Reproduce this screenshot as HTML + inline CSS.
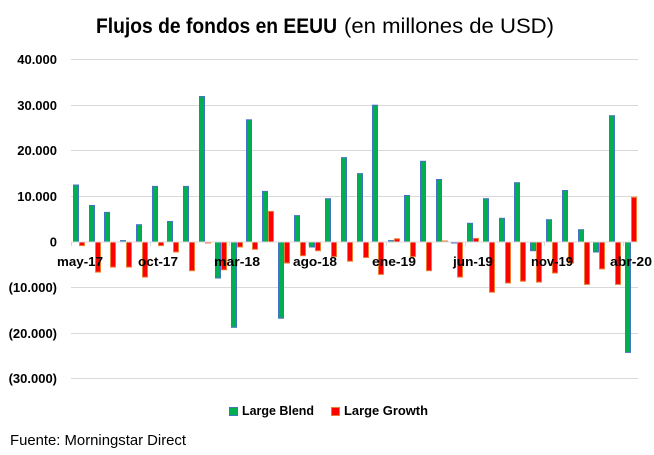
<!DOCTYPE html>
<html>
<head>
<meta charset="utf-8">
<style>
html,body{margin:0;padding:0;background:#fff;}
svg{display:block;}
text{font-family:"Liberation Sans",Arial,sans-serif;fill:#000;}
</style>
</head>
<body>
<svg width="654" height="455" viewBox="0 0 654 455" xmlns="http://www.w3.org/2000/svg">
<rect x="0" y="0" width="654" height="455" fill="#fff"/>
<!-- Title -->
<text x="96" y="33" font-size="21" font-weight="bold" textLength="241" lengthAdjust="spacingAndGlyphs">Flujos de fondos en EEUU</text>
<text x="344" y="33" font-size="21" textLength="210" lengthAdjust="spacingAndGlyphs">(en millones de USD)</text>

<!-- Gridlines -->
<g stroke="#d9d9d9" stroke-width="1">
<line x1="71" y1="59.5" x2="638" y2="59.5"/>
<line x1="71" y1="105.5" x2="638" y2="105.5"/>
<line x1="71" y1="150.5" x2="638" y2="150.5"/>
<line x1="71" y1="196.5" x2="638" y2="196.5"/>
<line x1="71" y1="287.5" x2="638" y2="287.5"/>
<line x1="71" y1="333.5" x2="638" y2="333.5"/>
<line x1="71" y1="378.5" x2="638" y2="378.5"/>
</g>

<!-- Y labels -->
<g font-size="13" font-weight="bold" text-anchor="end">
<text x="57" y="64">40.000</text>
<text x="57" y="110">30.000</text>
<text x="57" y="155">20.000</text>
<text x="57" y="201">10.000</text>
<text x="57" y="246.5">0</text>
<text x="57" y="292">(10.000)</text>
<text x="57" y="338">(20.000)</text>
<text x="57" y="383">(30.000)</text>
</g>

<!-- Green bars (Large Blend) -->
<g fill="#00b050" stroke="#4472c4" stroke-width="1">
<rect x="73.5" y="185" width="5" height="57"/>
<rect x="89.5" y="205.5" width="5" height="36.5"/>
<rect x="104.5" y="212.4" width="5" height="29.6"/>
<rect x="120.5" y="240.6" width="5" height="1.4"/>
<rect x="136.5" y="224.7" width="5" height="17.3"/>
<rect x="152.5" y="186.4" width="5" height="55.6"/>
<rect x="167.5" y="221.5" width="5" height="20.5"/>
<rect x="183.5" y="186.4" width="5" height="55.6"/>
<rect x="199.5" y="96.5" width="5" height="145.5"/>
<rect x="215.5" y="242" width="5" height="36"/>
<rect x="231.5" y="242" width="5" height="85.3"/>
<rect x="246.5" y="119.8" width="5" height="122.2"/>
<rect x="262.5" y="191.4" width="5" height="50.6"/>
<rect x="278.5" y="242" width="5" height="76.2"/>
<rect x="294.5" y="215.6" width="5" height="26.4"/>
<rect x="309.5" y="242" width="5" height="5"/>
<rect x="325.5" y="198.7" width="5" height="43.3"/>
<rect x="341.5" y="157.6" width="5" height="84.4"/>
<rect x="357.5" y="173.6" width="5" height="68.4"/>
<rect x="372.5" y="105.2" width="5" height="136.8"/>
<rect x="388.5" y="240.6" width="5" height="1.4"/>
<rect x="404.5" y="195.5" width="5" height="46.5"/>
<rect x="420.5" y="161.3" width="5" height="80.7"/>
<rect x="436.5" y="179.5" width="5" height="62.5"/>
<rect x="451.5" y="242" width="5" height="1"/>
<rect x="467.5" y="223.3" width="5" height="18.7"/>
<rect x="483.5" y="198.7" width="5" height="43.3"/>
<rect x="499.5" y="218.3" width="5" height="23.7"/>
<rect x="514.5" y="182.7" width="5" height="59.3"/>
<rect x="530.5" y="242" width="5" height="8.7"/>
<rect x="546.5" y="219.7" width="5" height="22.3"/>
<rect x="562.5" y="190.5" width="5" height="51.5"/>
<rect x="578.5" y="229.7" width="5" height="12.3"/>
<rect x="593.5" y="242" width="5" height="10"/>
<rect x="609.5" y="115.7" width="5" height="126.3"/>
<rect x="625.5" y="242" width="5" height="110.4"/>
</g>

<!-- Red bars (Large Growth) -->
<g fill="#ff0000" stroke="#ed7d31" stroke-width="1">
<rect x="79.5" y="242" width="5" height="3.6"/>
<rect x="95.5" y="242" width="5" height="30.1"/>
<rect x="110.5" y="242" width="5" height="25.1"/>
<rect x="126.5" y="242" width="5" height="25.1"/>
<rect x="142.5" y="242" width="5" height="35.1"/>
<rect x="158.5" y="242" width="5" height="3.6"/>
<rect x="173.5" y="242" width="5" height="10"/>
<rect x="189.5" y="242" width="5" height="28.7"/>
<rect x="205.5" y="242" width="5" height="1"/>
<rect x="221.5" y="242" width="5" height="27.8"/>
<rect x="237.5" y="242" width="5" height="5"/>
<rect x="252.5" y="242" width="5" height="7.3"/>
<rect x="268.5" y="211.4" width="5" height="30.6"/>
<rect x="284.5" y="242" width="5" height="21"/>
<rect x="300.5" y="242" width="5" height="13.7"/>
<rect x="315.5" y="242" width="5" height="8.7"/>
<rect x="331.5" y="242" width="5" height="14.6"/>
<rect x="347.5" y="242" width="5" height="19.2"/>
<rect x="363.5" y="242" width="5" height="15.5"/>
<rect x="378.5" y="242" width="5" height="32.4"/>
<rect x="394.5" y="238.8" width="5" height="3.2"/>
<rect x="410.5" y="242" width="5" height="14.6"/>
<rect x="426.5" y="242" width="5" height="28.7"/>
<rect x="442.5" y="241" width="5" height="1"/>
<rect x="457.5" y="242" width="5" height="35.1"/>
<rect x="473.5" y="238.4" width="5" height="3.6"/>
<rect x="489.5" y="242" width="5" height="50.2"/>
<rect x="505.5" y="242" width="5" height="41"/>
<rect x="520.5" y="242" width="5" height="39.2"/>
<rect x="536.5" y="242" width="5" height="40.1"/>
<rect x="552.5" y="242" width="5" height="31"/>
<rect x="568.5" y="242" width="5" height="21"/>
<rect x="584.5" y="242" width="5" height="42.4"/>
<rect x="599.5" y="242" width="5" height="26.9"/>
<rect x="615.5" y="242" width="5" height="42.4"/>
<rect x="631.5" y="197.3" width="5" height="44.7"/>
</g>

<!-- Zero axis and ticks -->
<g stroke="#d9d9d9" stroke-width="1">
<line x1="71" y1="242" x2="638" y2="242"/>
<line x1="71.5" y1="242" x2="71.5" y2="246"/>
<line x1="150.5" y1="242" x2="150.5" y2="246"/>
<line x1="229.5" y1="242" x2="229.5" y2="246"/>
<line x1="308.5" y1="242" x2="308.5" y2="246"/>
<line x1="386.5" y1="242" x2="386.5" y2="246"/>
<line x1="465.5" y1="242" x2="465.5" y2="246"/>
<line x1="544.5" y1="242" x2="544.5" y2="246"/>
<line x1="623.5" y1="242" x2="623.5" y2="246"/>
</g>

<!-- X labels -->
<g font-size="13" font-weight="bold" text-anchor="middle">
<text x="80" y="266" textLength="46" lengthAdjust="spacingAndGlyphs">may-17</text>
<text x="158" y="266" textLength="40" lengthAdjust="spacingAndGlyphs">oct-17</text>
<text x="237" y="266" textLength="46" lengthAdjust="spacingAndGlyphs">mar-18</text>
<text x="315" y="266" textLength="44" lengthAdjust="spacingAndGlyphs">ago-18</text>
<text x="394" y="266" textLength="44" lengthAdjust="spacingAndGlyphs">ene-19</text>
<text x="473" y="266" textLength="40" lengthAdjust="spacingAndGlyphs">jun-19</text>
<text x="552" y="266" textLength="42" lengthAdjust="spacingAndGlyphs">nov-19</text>
<text x="631" y="266" textLength="42" lengthAdjust="spacingAndGlyphs">abr-20</text>
</g>

<!-- Legend -->
<rect x="229.5" y="407.5" width="8" height="8" fill="#00b050" stroke="#4472c4" stroke-width="1"/>
<text x="242" y="415" font-size="13" font-weight="bold" textLength="72" lengthAdjust="spacingAndGlyphs">Large Blend</text>
<rect x="331.5" y="407.5" width="8" height="8" fill="#ff0000" stroke="#ed7d31" stroke-width="1"/>
<text x="344" y="415" font-size="13" font-weight="bold" textLength="84" lengthAdjust="spacingAndGlyphs">Large Growth</text>

<!-- Source -->
<text x="10" y="445" font-size="15" textLength="176" lengthAdjust="spacingAndGlyphs">Fuente: Morningstar Direct</text>
</svg>
</body>
</html>
